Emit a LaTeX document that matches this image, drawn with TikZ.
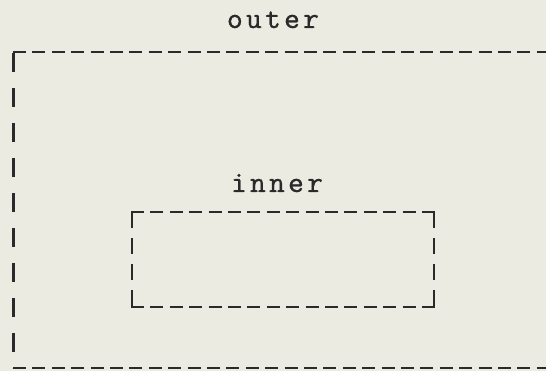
\documentclass[tikz,border=0pt]{standalone}
\usepackage{fontspec}
\definecolor{paper}{HTML}{ECEBE2}
\definecolor{ink}{HTML}{2A2A2A}
\newfontfamily\typeface[LetterSpace=11,FakeBold=0.6]{lmmono10-regular.otf}
\tikzset{
  hdash/.style={draw=ink,line width=2.6pt,dash pattern=on 13pt off 6.4pt},
  vdash/.style={draw=ink,line width=2.4pt,dash pattern=on 19pt off 16pt},
  vshort/.style={draw=ink,line width=2.4pt,dash pattern=on 16pt off 10pt},
  typelbl/.style={text=ink,inner sep=0pt,anchor=base,
    font=\typeface\fontsize{30pt}{34pt}\selectfont},
}
\begin{document}
\begin{tikzpicture}[x=1pt,y=-1pt]
  \useasboundingbox (0,0) rectangle (546,371);
  \fill[paper] (0,0) rectangle (546,371);
  % outer frame, running off the right edge
  \coordinate (otl) at (13,52);
  \coordinate (otr) at (546,52);
  \coordinate (obl) at (13,368);
  \coordinate (obr) at (546,368);
  \draw[hdash] (otl) -- (otr);
  \draw[hdash] (obl) -- (obr);
  \draw[vdash] ([xshift=0.6pt,yshift=-1pt]otl) -- ([xshift=0.6pt]obl);
  \node[typelbl] (outerlbl) at (273,28) {outer};
  % inner frame
  \coordinate (itl) at (131,212);
  \coordinate (itr) at (435,212);
  \coordinate (ibl) at (131,307);
  \coordinate (ibr) at (435,307);
  \draw[hdash] (itl) -- (itr);
  \draw[hdash] (ibl) -- (ibr);
  \draw[vshort] ([xshift=1.2pt]itl) -- ([xshift=1.2pt]ibl);
  \draw[vshort] ([xshift=-1.2pt]itr) -- ([xshift=-1.2pt]ibr);
  \node[typelbl] (innerlbl) at (277,192) {inner};
\end{tikzpicture}
\end{document}
